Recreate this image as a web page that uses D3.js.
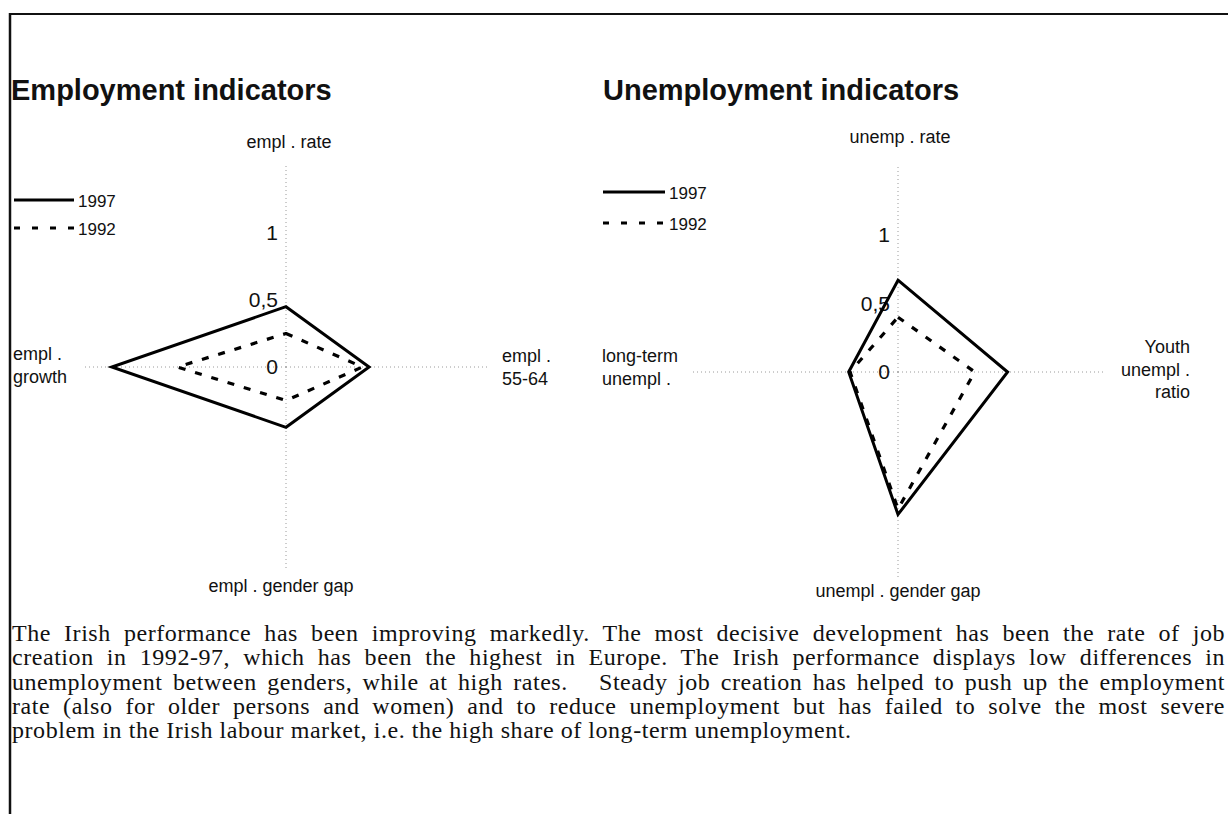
<!DOCTYPE html>
<html>
<head>
<meta charset="utf-8">
<script src="https://cdn.jsdelivr.net/npm/d3@7"></script>
<style>
  html, body { margin: 0; padding: 0; background: #fff; }
  body { width: 1228px; height: 814px; position: relative; overflow: hidden; }
  svg { position: absolute; left: 0; top: 0; }
  #body-text { position: absolute; left: 12px; top: 621px; width: 1213px;
    font-family: "Liberation Serif", "Times New Roman", serif; font-size: 24px;
    letter-spacing: 0.55px; color: #111; }
  #body-text div { height: 24.3px; line-height: 24.3px; white-space: nowrap; }
  #body-text div.j { text-align: justify; text-align-last: justify; white-space: normal; }
</style>
</head>
<body>
<svg id="chart" width="1228" height="814"></svg>
<div id="body-text"></div>
<script>
// ---------------- data ----------------
const employmentAxes = ["empl . rate", "empl . 55-64", "empl . gender gap", "empl . growth"];
const employment1997 = [0.45, 0.62, 0.45, 1.30];
const employment1992 = [0.25, 0.57, 0.25, 0.81];

const unemploymentAxes = ["unemp . rate", "Youth unempl . ratio", "unempl . gender gap", "long-term unempl ."];
const unemployment1997 = [0.67, 0.80, 1.04, 0.36];
const unemployment1992 = [0.40, 0.56, 1.00, 0.35];

const seriesNames = ["1997", "1992"];
const tickValues = [0, 0.5, 1];
const tickLabels = ["0", "0,5", "1"];

const titles = ["Employment indicators", "Unemployment indicators"];

const bodyLines = [
  "The Irish performance has been improving markedly. The most decisive development has been the rate of job",
  "creation in 1992-97, which has been the highest in Europe. The Irish performance displays low differences in",
  "unemployment between genders, while at high rates. \u00a0 Steady job creation has helped to push up the employment",
  "rate (also for older persons and women) and to reduce unemployment but has failed to solve the most severe",
  "problem in the Irish labour market, i.e. the high share of long-term unemployment."
];

// ---------------- layout ----------------
const svg = d3.select("#chart");
const sans = "'Liberation Sans', Arial, sans-serif";

// frame
svg.append("line").attr("x1", 10).attr("y1", 14).attr("x2", 1228).attr("y2", 14)
  .attr("stroke", "#111").attr("stroke-width", 2);
svg.append("line").attr("x1", 10).attr("y1", 13).attr("x2", 10).attr("y2", 814)
  .attr("stroke", "#111").attr("stroke-width", 2.5);

const charts = [
  {
    cx: 286, cy: 367, unit: 134, axes: employmentAxes, s1997: employment1997, s1992: employment1992,
    title: titles[0], titleX: 11, legendX: 14, legendLen: 60, legendY: [200, 228],
    labels: [
      {x: 289, y: 148, anchor: "middle", lines: ["empl . rate"]},
      {x: 502, y: 362, anchor: "start", lines: ["empl .", "55-64"]},
      {x: 281, y: 592, anchor: "middle", lines: ["empl . gender gap"]},
      {x: 13, y: 360, anchor: "start", lines: ["empl .", "growth"]}
    ]
  },
  {
    cx: 898, cy: 372, unit: 137, axes: unemploymentAxes, s1997: unemployment1997, s1992: unemployment1992,
    title: titles[1], titleX: 603, legendX: 603, legendLen: 62, legendY: [192, 223],
    labels: [
      {x: 900, y: 143, anchor: "middle", lines: ["unemp . rate"]},
      {x: 1190, y: 353, anchor: "end", lines: ["Youth", "unempl .", "ratio"]},
      {x: 898, y: 597, anchor: "middle", lines: ["unempl . gender gap"]},
      {x: 602, y: 362, anchor: "start", lines: ["long-term", "unempl ."]}
    ]
  }
];

charts.forEach(c => {
  const g = svg.append("g").attr("transform", `translate(${c.cx},${c.cy})`);
  const r = d3.scaleLinear().domain([0, 1.5]).range([0, 1.5 * c.unit]);
  const angle = d3.scalePoint().domain(d3.range(c.axes.length)).range([0, 2 * Math.PI * (c.axes.length - 1) / c.axes.length]);

  // axes (dotted grey spokes)
  c.axes.forEach((a, i) => {
    const th = angle(i);
    g.append("line")
      .attr("x1", 0).attr("y1", 0)
      .attr("x2", Math.sin(th) * r(1.5)).attr("y2", -Math.cos(th) * r(1.5))
      .attr("stroke", "#9a9a9a").attr("stroke-width", 1).attr("stroke-dasharray", "1,3");
  });

  // tick labels along the vertical axis
  tickValues.forEach((v, i) => {
    g.append("text")
      .attr("x", -8).attr("y", -r(v) + 7)
      .attr("text-anchor", "end")
      .attr("font-family", sans).attr("font-size", 21).attr("fill", "#111")
      .text(tickLabels[i]);
  });

  // series
  const line = d3.lineRadial()
    .angle((d, i) => angle(i))
    .radius(d => r(d))
    .curve(d3.curveLinearClosed);

  g.append("path").datum(c.s1992).attr("d", line)
    .attr("fill", "none").attr("stroke", "#000").attr("stroke-width", 3.2)
    .attr("stroke-dasharray", "7,10").attr("stroke-linejoin", "round");
  g.append("path").datum(c.s1997).attr("d", line)
    .attr("fill", "none").attr("stroke", "#000").attr("stroke-width", 3)
    .attr("stroke-linejoin", "miter");

  // axis labels
  c.labels.forEach((lb, i) => {
    const t = svg.append("text")
      .attr("text-anchor", lb.anchor)
      .attr("font-family", sans).attr("font-size", 18).attr("fill", "#111");
    lb.lines.forEach((ln, k) => {
      t.append("tspan").attr("x", lb.x).attr("y", lb.y + k * 22.5).text(ln);
    });
  });

  // title
  svg.append("text").attr("x", c.titleX).attr("y", 100)
    .attr("font-family", sans).attr("font-size", 29).attr("font-weight", "bold").attr("fill", "#111")
    .text(c.title);

  // legend
  seriesNames.forEach((s, k) => {
    const y = c.legendY[k];
    svg.append("line")
      .attr("x1", c.legendX).attr("x2", c.legendX + c.legendLen)
      .attr("y1", y).attr("y2", y)
      .attr("stroke", "#000").attr("stroke-width", 3)
      .attr("stroke-dasharray", k === 0 ? null : "6,12");
    svg.append("text").attr("x", c.legendX + c.legendLen + 4).attr("y", y + 7)
      .attr("font-family", sans).attr("font-size", 17).attr("fill", "#111")
      .text(s);
  });
});

// body text
const bt = d3.select("#body-text");
bodyLines.forEach((l, i) => {
  bt.append("div").attr("class", i < bodyLines.length - 1 ? "j" : null).text(l);
});
</script>
</body>
</html>
